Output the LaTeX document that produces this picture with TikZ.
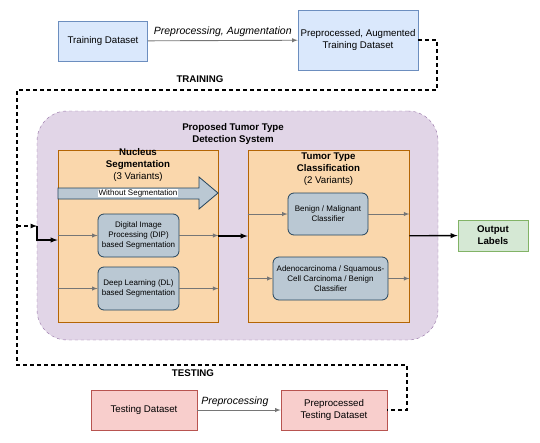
\documentclass[tikz,border=0pt]{standalone}
\usepackage{fontspec}
\setmainfont{Liberation Sans}
\usetikzlibrary{positioning}
\definecolor{bluefill}{HTML}{DAE8FC}
\definecolor{bluedraw}{HTML}{6C8EBF}
\definecolor{redfill}{HTML}{F8CECC}
\definecolor{reddraw}{HTML}{B85450}
\definecolor{orangefill}{HTML}{FAD7AC}
\definecolor{orangedraw}{HTML}{B46504}
\definecolor{purplefill}{HTML}{E1D5E7}
\definecolor{purpledraw}{HTML}{9673A6}
\definecolor{grayfill}{HTML}{BAC8D3}
\definecolor{graydraw}{HTML}{23445D}
\definecolor{greenfill}{HTML}{D5E8D4}
\definecolor{greendraw}{HTML}{82B366}
\definecolor{arrowgray}{HTML}{767676}

\begin{document}
\begin{tikzpicture}
    [
    x=1pt, y=-1pt,
    box/.style={draw, line width=0.8pt, align=center, inner sep=1pt, font=\fontsize{9.7}{12}\selectfont},
    train/.style={box, fill=bluefill, draw=bluedraw},
    test/.style={box, fill=redfill, draw=reddraw},
    stage/.style={draw=orangedraw, fill=orangefill, line width=0.8pt},
    method/.style={box, rounded corners=6pt, fill=grayfill, draw=graydraw, font=\fontsize{8}{10}\selectfont},
    title/.style={align=center, font=\fontsize{9.7}{12}\selectfont\bfseries},
    tag/.style={font=\fontsize{10.5}{12}\selectfont\itshape},
    flow/.style={draw=arrowgray, line width=0.9pt, -latex},
    main/.style={line width=1.4pt, -latex},
    loop/.style={line width=1.2pt, dash pattern=on 4pt off 3pt}
    ]
    \useasboundingbox (0,0) rectangle (540,442);

    \node (trainset) at (103,41) [train, minimum width=89, minimum height=40] {Training Dataset};
    \node (trainaug) at (358,40) [train, minimum width=120, minimum height=60] {Preprocessed, Augmented\\Training Dataset};
    \draw [flow] (trainset) to node[above, tag] {Preprocessing, Augmentation} (trainaug);
    \node (traintitle) at (200,79) [title] {TRAINING};

    \node (sys) at (237.5,225.5) [draw=purpledraw, fill=purplefill, dashed, rounded corners=30pt, minimum width=401, minimum height=229] {};
    \node (systitle) at (233,134) [title] {Proposed Tumor Type\\Detection System};

    \node (seg) at (138,236) [stage, minimum width=160, minimum height=172] {};
    \node (segtitle) at (138,165) [title] {Nucleus\\Segmentation\\\mdseries(3 Variants)};
    \node (cls) at (328.5,236) [stage, minimum width=161, minimum height=172] {};
    \node (clstitle) at (328.5,169) [title] {Tumor Type\\Classification\\\mdseries(2 Variants)};

    \draw [fill=grayfill, draw=graydraw, line width=0.8pt] (58,188) -- (199,188) -- (199,177) -- (218,193) -- (199,209) -- (199,199) -- (58,199) -- cycle;
    \node (skiplabel) at (138,193) [fill=white, inner sep=0.5pt, font=\fontsize{8}{10}\selectfont] {Without Segmentation};

    \node (dip) at (138.5,235.5) [method, minimum width=81, minimum height=43] {Digital Image\\Processing (DIP)\\based Segmentation};
    \node (dl) at (138.5,288.5) [method, minimum width=81, minimum height=43] {Deep Learning (DL)\\based Segmentation};
    \node (bm) at (328,214) [method, minimum width=80, minimum height=42] {Benign / Malignant\\Classifier};
    \node (asb) at (330.5,278.5) [method, minimum width=115, minimum height=43] {Adenocarcinoma / Squamous-\\Cell Carcinoma / Benign\\Classifier};
    \node (out) at (493,235.5) [box, fill=greenfill, draw=greendraw, minimum width=70, minimum height=31, font=\fontsize{9.7}{12}\selectfont\bfseries] {Output\\Labels};

    \draw [flow] (seg.west |- dip) to (dip);
    \draw [flow] (dip) to (seg.east |- dip);
    \draw [flow] (seg.west |- dl) to (dl);
    \draw [flow] (dl) to (seg.east |- dl);
    \draw [flow] (cls.west |- bm) to (bm);
    \draw [flow] (bm) to (cls.east |- bm);
    \draw [flow] (cls.west |- asb) to (asb);
    \draw [flow] (asb) to (cls.east |- asb);
    \draw [main] (seg) to (cls);
    \draw [main] (cls) to (out);

    \node (testset) at (144,410) [test, minimum width=106, minimum height=40] {Testing Dataset};
    \node (testprep) at (334,410) [test, minimum width=106, minimum height=40] {Preprocessed\\Testing Dataset};
    \draw [flow] (testset) to node[above, tag, pos=0.45] {Preprocessing} (testprep);
    \node (testtitle) at (193,373) [title] {TESTING};

    \coordinate (trainbend) at (437,90);
    \coordinate (leftbend) at (17,365);
    \coordinate (testbend) at (407,410);
    \coordinate (loopin) at (17,226);
    \coordinate (entry) at (37,226);
    \draw [loop] (trainaug.east) -| (trainbend) -| (leftbend) -| (testbend) -- (testprep.east);
    \draw [loop, -latex] (loopin) to (entry);
    \draw [main] (entry) |- ([yshift=-4pt]seg.west);
  \end{tikzpicture}
\end{document}
